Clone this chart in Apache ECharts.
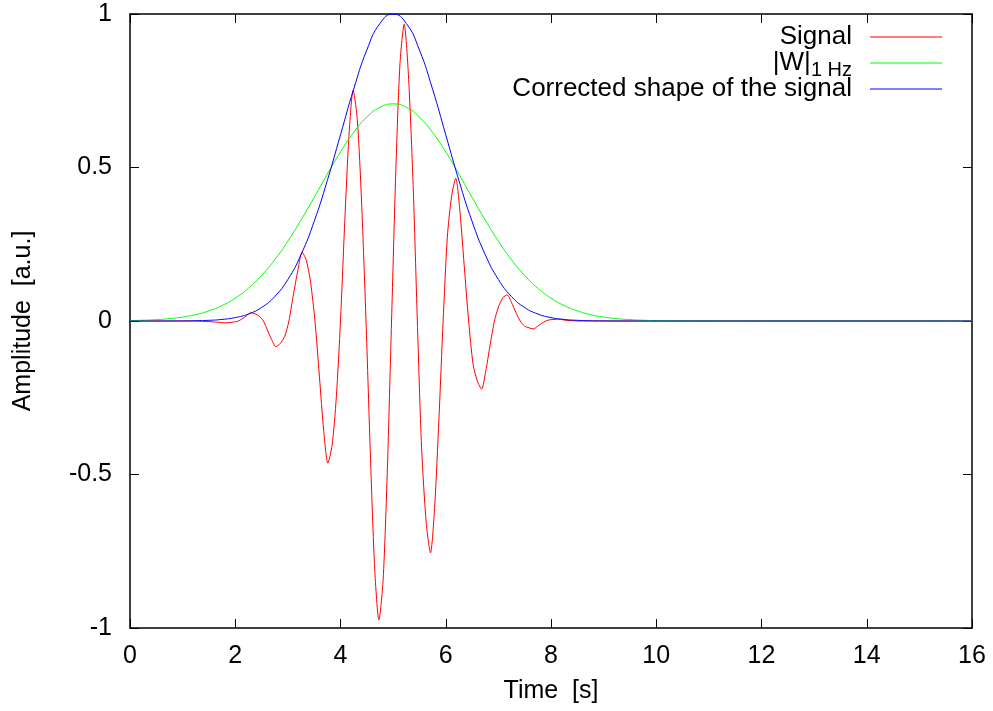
<!DOCTYPE html>
<html>
<head>
<meta charset="utf-8">
<script src="https://cdn.jsdelivr.net/npm/echarts@6/dist/echarts.min.js"></script>
<style>html,body{margin:0;padding:0;background:#fff}#c{width:993px;height:711px}</style>
</head>
<body>
<div id="c"></div>
<script>
// ---- data ----
const xLabels = ['0', '2', '4', '6', '8', '10', '12', '14', '16'];
const yLabels = ['-1', '-0.5', '0', '0.5', '1'];
const seriesNames = ['Signal', 'W', 'Corrected shape of the signal'];

// Signal (red): time [s] and amplitude
const sigT = [0, 1.2, 1.5, 1.66, 1.74, 1.82, 1.90, 1.98, 2.06, 2.14, 2.22,
  2.30, 2.38, 2.46, 2.535, 2.61, 2.69,
  2.77, 2.85, 2.94, 3.02, 3.10, 3.19,
  3.27, 3.35, 3.43, 3.515, 3.60, 3.68,
  3.76, 3.84, 3.92, 4.00, 4.08, 4.16,
  4.24, 4.32, 4.40, 4.485, 4.57, 4.65,
  4.73, 4.81, 4.89, 4.97, 5.05, 5.13,
  5.21, 5.29, 5.38, 5.46, 5.54, 5.63,
  5.71, 5.79, 5.87, 5.95, 6.03, 6.11,
  6.19, 6.27, 6.35, 6.435, 6.52, 6.60,
  6.68, 6.76, 6.84, 6.925, 7.01, 7.09,
  7.17, 7.25, 7.33, 7.415, 7.50, 7.58,
  7.66, 7.74, 7.82, 7.90, 7.98, 8.06,
  8.14, 8.3, 8.6, 10, 16];
const sigV = [0, 0, -0.002, -0.004, -0.005, -0.006, -0.005, -0.003, 0.000, 0.008, 0.018,
  0.027, 0.023, 0.015, 0, -0.029, -0.060,
  -0.084, -0.074, -0.050, 0, 0.081, 0.165,
  0.224, 0.198, 0.128, 0, -0.182, -0.355,
  -0.463, -0.405, -0.250, 0, 0.320, 0.601,
  0.752, 0.655, 0.390, 0, -0.447, -0.808,
  -0.974, -0.843, -0.486, 0, 0.484, 0.838,
  0.967, 0.804, 0.445, 0, -0.410, -0.660,
  -0.755, -0.603, -0.321, 0, 0.273, 0.405,
  0.465, 0.356, 0.182, 0, -0.142, -0.195,
  -0.222, -0.164, -0.081, 0, 0.050, 0.077,
  0.085, 0.060, 0.029, 0, -0.017, -0.022,
  -0.026, -0.018, -0.008, 0, 0.004, 0.005,
  0.006, 0.002, 0, 0, 0];

// |W| at 1 Hz (green) and corrected shape (blue)
const envT = [0, 0.25, 0.5, 0.75, 1, 1.25, 1.5, 1.75, 2, 2.25, 2.5, 2.75, 3, 3.25, 3.5, 3.75,
  4, 4.25, 4.5, 4.75, 5, 5.25, 5.5, 5.75, 6, 6.25, 6.5, 6.75, 7, 7.25, 7.5, 7.75,
  8, 8.25, 8.5, 8.75, 9, 9.25, 9.5, 9.75, 10, 10.5, 11, 12, 16];
const greenV = [0.0014, 0.0025, 0.0045, 0.0077, 0.0130, 0.0210, 0.0331, 0.0504, 0.0745, 0.1067,
  0.1482, 0.1994, 0.2601, 0.3288, 0.4028, 0.4784, 0.5506, 0.6142, 0.6641, 0.6960, 0.7071,
  0.6960, 0.6641, 0.6142, 0.5506, 0.4784, 0.4028, 0.3288, 0.2601, 0.1994, 0.1482, 0.1067,
  0.0745, 0.0504, 0.0331, 0.0210, 0.0130, 0.0077, 0.0045, 0.0025, 0.0014, 0.0004, 0.0001, 0, 0];
const blueV = [0, 0, 0, 0.0001, 0.0003, 0.0009, 0.0022, 0.0051, 0.0111, 0.0228,
  0.0439, 0.0796, 0.1353, 0.2163, 0.3247, 0.4578, 0.6065, 0.7548, 0.8825, 0.9692, 1,
  0.9692, 0.8825, 0.7548, 0.6065, 0.4578, 0.3247, 0.2163, 0.1353, 0.0796, 0.0439, 0.0228,
  0.0111, 0.0051, 0.0022, 0.0009, 0.0003, 0.0001, 0, 0, 0, 0, 0, 0, 0];

// ---- chart ----
const FONT = "'Liberation Sans', Arial, Helvetica, sans-serif";
const chart = echarts.init(document.getElementById('c'), null, {renderer: 'canvas'});
const pair = (ts, vs) => ts.map((t, i) => [t, vs[i]]);

const baseX = {type: 'value', min: 0, max: 16, interval: 2, splitLine: {show: false},
  axisLine: {show: true, onZero: false, lineStyle: {color: '#000', width: 1.5}},
  axisTick: {show: true, inside: true, length: 9, lineStyle: {color: '#000', width: 1}}};
const baseY = {type: 'value', min: -1, max: 1, interval: 0.5, splitLine: {show: false},
  axisLine: {show: true, onZero: false, lineStyle: {color: '#000', width: 1.5}},
  axisTick: {show: true, inside: true, length: 9, lineStyle: {color: '#000', width: 1}}};

chart.setOption({
  animation: false,
  backgroundColor: '#fff',
  textStyle: {fontFamily: FONT},
  grid: {left: 130, right: 21, top: 14, bottom: 83, containLabel: false, outerBoundsMode: 'none'},
  legend: {
    orient: 'vertical', align: 'right', right: 51, top: 24, padding: 0,
    icon: 'rect', itemWidth: 72, itemHeight: 1, itemGap: -4,
    data: seriesNames,
    formatter: n => n === 'W' ? '|W|{sub|1 Hz}' : n,
    textStyle: {fontFamily: FONT, fontSize: 26, color: '#000', lineHeight: 26, padding: [0, 13, 0, 0],
      rich: {sub: {fontFamily: FONT, fontSize: 20, color: '#000', lineHeight: 26, padding: [14, 0, 0, 0]}}}
  },
  xAxis: [
    Object.assign({}, baseX, {position: 'bottom',
      axisLabel: {show: true, margin: 16, fontSize: 25, color: '#000', fontFamily: FONT,
        formatter: v => xLabels[Math.round(v / 2)]},
      name: 'Time  [s]', nameLocation: 'middle', nameGap: 51,
      nameTextStyle: {fontSize: 25, color: '#000', fontFamily: FONT}}),
    Object.assign({}, baseX, {position: 'top', axisLabel: {show: false}})
  ],
  yAxis: [
    Object.assign({}, baseY, {position: 'left',
      axisLabel: {show: true, margin: 18, fontSize: 25, color: '#000', fontFamily: FONT,
        formatter: v => yLabels[Math.round((v + 1) / 0.5)]},
      name: 'Amplitude  [a.u.]', nameLocation: 'middle', nameGap: 94,
      nameTextStyle: {fontSize: 25, color: '#000', fontFamily: FONT}}),
    Object.assign({}, baseY, {position: 'right', axisLabel: {show: false}})
  ],
  series: [
    {name: 'Signal', type: 'line', xAxisIndex: 0, yAxisIndex: 0, data: pair(sigT, sigV),
      symbol: 'none', smooth: 0.25, lineStyle: {color: '#ff0000', width: 1}, itemStyle: {color: '#ff0000'}},
    {name: 'W', type: 'line', xAxisIndex: 0, yAxisIndex: 0, data: pair(envT, greenV),
      symbol: 'none', smooth: 0.5, lineStyle: {color: '#00ff00', width: 1}, itemStyle: {color: '#00ff00'}},
    {name: 'Corrected shape of the signal', type: 'line', xAxisIndex: 0, yAxisIndex: 0, data: pair(envT, blueV),
      symbol: 'none', smooth: 0.5, lineStyle: {color: '#0000ff', width: 1}, itemStyle: {color: '#0000ff'}}
  ]
});
</script>
</body>
</html>
